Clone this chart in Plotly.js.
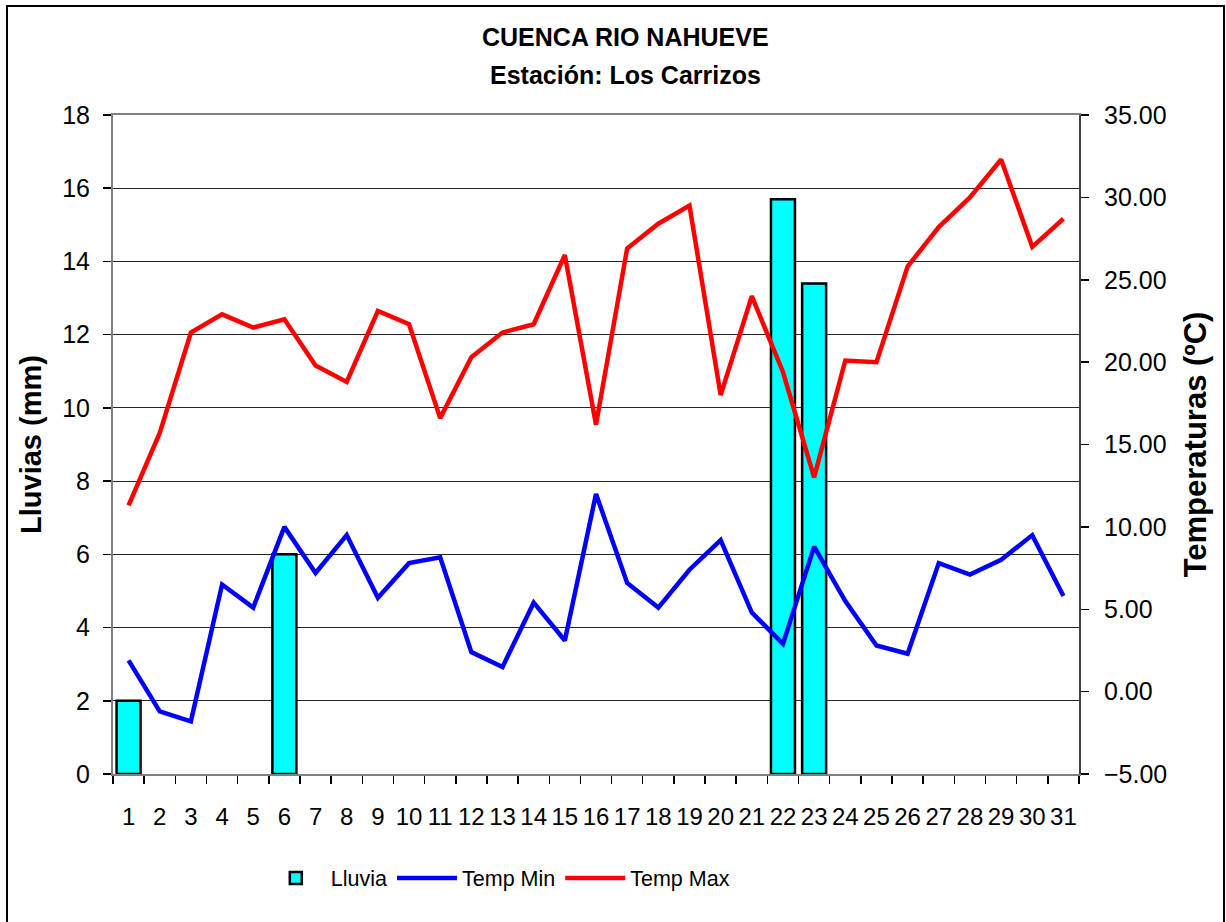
<!DOCTYPE html>
<html>
<head>
<meta charset="utf-8">
<script src="https://cdn.plot.ly/plotly-3.0.1.min.js"></script>
<style>html,body{margin:0;padding:0;background:#fff;}#chart{width:1226px;height:922px;}</style>
</head>
<body>
<div id="chart"></div>
<script>
const days = ["1","2","3","4","5","6","7","8","9","10","11","12","13","14","15","16","17","18","19","20","21","22","23","24","25","26","27","28","29","30","31"];
const lluvia = [2.0,0,0,0,0,6.0,0,0,0,0,0,0,0,0,0,0,0,0,0,0,0,15.7,13.4,0,0,0,0,0,0,0,0];
const tempMin = [1.9,-1.2,-1.8,6.5,5.1,10.0,7.2,9.5,5.7,7.8,8.15,2.4,1.5,5.4,3.1,12.0,6.6,5.1,7.4,9.2,4.8,2.9,8.8,5.5,2.8,2.3,7.8,7.1,8.0,9.5,5.8];
const tempMax = [11.3,15.7,21.8,22.9,22.1,22.6,19.8,18.8,23.1,22.3,16.6,20.3,21.8,22.3,26.5,16.2,26.9,28.4,29.5,18.0,24.0,19.4,13.0,20.1,20.0,25.8,28.2,30.0,32.3,27.0,28.7];
const leftTicks = [0,2,4,6,8,10,12,14,16,18];
const rightTicks = [-5,0,5,10,15,20,25,30,35];
const titleLine1 = "CUENCA RIO NAHUEVE";
const titleLine2 = "Estación: Los Carrizos";

const FONT = "Liberation Sans, Arial, sans-serif";

const traces = [
  {type:"bar", name:"Lluvia", x:days, y:lluvia, yaxis:"y",
   marker:{color:"#00FFFF", line:{color:"#000000", width:lluvia.map(v => v > 0 ? 2.5 : 0)}}},
  {type:"scatter", mode:"lines", name:"Temp Min", x:days, y:tempMin, yaxis:"y2",
   line:{color:"#0000FF", width:4.5}},
  {type:"scatter", mode:"lines", name:"Temp Max", x:days, y:tempMax, yaxis:"y2",
   line:{color:"#FF0000", width:4.5}}
];

const layout = {
  width:1226, height:922,
  paper_bgcolor:"#ffffff", plot_bgcolor:"#ffffff",
  margin:{l:113, r:147, t:115, b:148, pad:0},
  font:{family:FONT, color:"#000000", size:24},
  annotations:[
    {text:"<b>"+titleLine1+"</b>", xref:"paper", yref:"paper", x:0.531, y:(774-37)/659,
     xanchor:"center", yanchor:"middle", showarrow:false, font:{family:FONT, size:25, color:"#000"}},
    {text:"<b>"+titleLine2+"</b>", xref:"paper", yref:"paper", x:0.531, y:(774-75)/659,
     xanchor:"center", yanchor:"middle", showarrow:false, font:{family:FONT, size:25, color:"#000"}}
  ],
  bargap:0.23,
  showlegend:true,
  legend:{orientation:"h", x:0.153, xanchor:"left", y:-0.158, yanchor:"middle",
          font:{family:FONT, size:21.5, color:"#000"}, itemwidth:60, bgcolor:"rgba(0,0,0,0)"},
  xaxis:{type:"category", tickson:"boundaries", ticks:"outside", ticklen:8, tickcolor:"#000",
         tickwidth:1.5, showline:true, linecolor:"#808080", linewidth:2, mirror:true,
         showgrid:false, tickfont:{family:FONT, size:24}, tickangle:0, ticklabelstandoff:20,
         range:[-0.5,30.5]},
  yaxis:{range:[0,18], tickvals:leftTicks, ticks:"outside", ticklen:8, tickcolor:"#000", tickwidth:1.5,
         showline:true, linecolor:"#808080", linewidth:2, showgrid:true, gridcolor:"#262626", gridwidth:1,
         zeroline:false, tickfont:{family:FONT, size:25}, ticklabelstandoff:8,
         title:{text:"<b>Lluvias (mm)</b>", font:{family:FONT, size:29}, standoff:12}},
  yaxis2:{range:[-5,35], tickvals:rightTicks, tickformat:".2f", overlaying:"y", side:"right",
          ticks:"outside", ticklen:8, tickcolor:"#000", tickwidth:1.5,
          showline:true, linecolor:"#404040", linewidth:2, showgrid:false, zeroline:false,
          tickfont:{family:FONT, size:25}, ticklabelstandoff:10,
          title:{text:"<b>Temperaturas (ºC)</b>", font:{family:FONT, size:31}, standoff:18}},
  shapes:[{type:"rect", xref:"paper", yref:"paper",
           x0:(7-113)/966, x1:(1224-113)/966, y0:(774-930)/659, y1:(774-6)/659,
           line:{color:"#000", width:2}, fillcolor:"rgba(0,0,0,0)", layer:"above"}]
};

Plotly.newPlot("chart", traces, layout, {staticPlot:true, displayModeBar:false});
</script>
</body>
</html>
